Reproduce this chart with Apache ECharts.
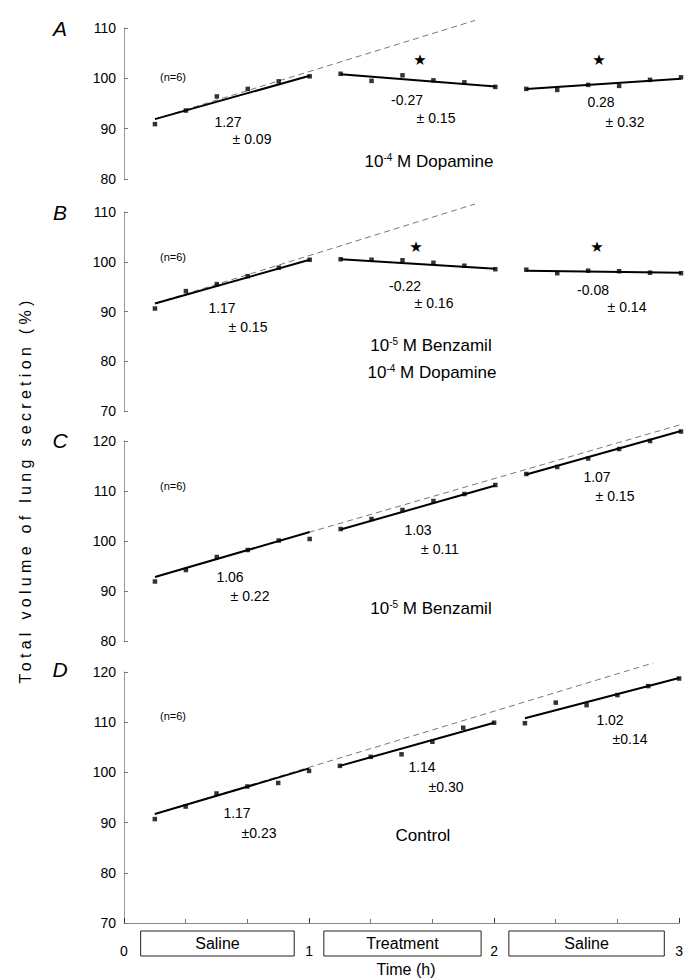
<!DOCTYPE html>
<html>
<head>
<meta charset="UTF-8">
<script src="https://cdn.jsdelivr.net/npm/echarts@6.0.0/dist/echarts.min.js"></script>
<style>
  html, body { margin: 0; padding: 0; background: #fff; }
  #main { width: 686px; height: 980px; }
</style>
</head>
<body>
<div id="main"></div>
<script>
// sample times inside each 1 h period (min)
var sampleMin = [10, 20, 30, 40, 50, 60];
var periods = ['Saline', 'Treatment', 'Saline'];
var boxFrom = [0.09, 1.08, 2.08];
var boxTo = [0.92, 1.93, 2.92];

// A: 10-4 M dopamine
var ptsA = [[90.9, 93.6, 96.4, 97.9, 99.4, 100.4], [100.9, 99.5, 100.6, 99.6, 99.2, 98.3], [97.9, 97.7, 98.7, 98.5, 99.7, 100.2]];
var fitA = [[91.9, 100.5], [100.8, 98.4], [97.9, 99.9]];
var dashA = [[0.167, 91.9], [1.89, 111.5]];

// B: benzamil + dopamine
var ptsB = [[90.6, 94.1, 95.5, 97.1, 98.8, 100.4], [100.5, 100.4, 100.3, 99.8, 99.2, 98.5], [98.4, 97.7, 98.2, 98.1, 97.8, 97.7]];
var fitB = [[91.6, 100.4], [100.5, 98.6], [98.2, 97.8]];
var dashB = [[0.167, 91.6], [1.89, 111.6]];

// C: benzamil
var ptsC = [[91.9, 94.2, 96.8, 98.2, 100.1, 100.4], [102.4, 104.4, 106.2, 108.0, 109.4, 111.2], [113.4, 114.8, 116.5, 118.4, 120.0, 121.9]];
var fitC = [[92.8, 101.8], [102.3, 111.1], [113.3, 122.0]];
var dashC = [[0.167, 92.8], [3.0, 123.3]];

// D: control
var ptsD = [[90.7, 93.2, 95.8, 97.2, 97.9, 100.3], [101.3, 103.1, 103.6, 106.1, 108.9, 109.9], [109.8, 113.9, 113.4, 115.4, 117.2, 118.7]];
var fitD = [[91.7, 100.8], [101.3, 109.9], [110.8, 118.8]];
var dashD = [[0.167, 91.7], [2.86, 121.8]];

var panels = [
    {pts: ptsA, fit: fitA, dash: dashA, min: 80, max: 110, top: 28, height: 151},
    {pts: ptsB, fit: fitB, dash: dashB, min: 70, max: 110, top: 212, height: 199},
    {pts: ptsC, fit: fitC, dash: dashC, min: 80, max: 120, top: 441, height: 200},
    {pts: ptsD, fit: fitD, dash: dashD, min: 70, max: 120, top: 672, height: 251}
];

var FONT = 'Liberation Sans, Arial, sans-serif';
var Y_TITLE = 'Total volume of lung secretion (%)';
var chart = echarts.init(document.getElementById('main'), null, {renderer: 'svg'});

var grids = [], xAxes = [], yAxes = [], series = [];
panels.forEach(function (p, i) {
    grids.push({left: 124, width: 557, top: p.top, height: p.height});
    var last = i === panels.length - 1;
    xAxes.push({
        gridIndex: i, type: 'value', min: 0, max: 3, interval: 1, show: last,
        axisLine: {show: true, onZero: false, lineStyle: {color: '#888', width: 1}},
        axisTick: {show: true, inside: true, length: 5, lineStyle: {color: '#333'}},
        minorTick: {show: true, splitNumber: 3, length: 4, lineStyle: {color: '#777'}},
        axisLabel: {margin: 21, fontSize: 14, color: '#000', fontFamily: FONT},
        splitLine: {show: false}, minorSplitLine: {show: false}
    });
    yAxes.push({
        gridIndex: i, type: 'value', min: p.min, max: p.max, interval: 10,
        axisLine: {show: true, lineStyle: {color: '#999', width: 1}},
        axisTick: {show: true, inside: true, length: 4, lineStyle: {color: '#777'}},
        axisLabel: {margin: 8, fontSize: 14, color: '#000', fontFamily: FONT},
        splitLine: {show: false}
    });

    var scat = [];
    p.pts.forEach(function (seg, s) {
        seg.forEach(function (v, k) {
            scat.push([s + sampleMin[k] / 60, v]);
        });
        // fitted line of each period
        series.push({
            type: 'line', xAxisIndex: i, yAxisIndex: i, clip: false, symbol: 'none',
            lineStyle: {color: '#000', width: 2},
            data: [[s + sampleMin[0] / 60, p.fit[s][0]], [s + 1, p.fit[s][1]]]
        });
    });
    // extrapolated saline line
    series.push({
        type: 'line', xAxisIndex: i, yAxisIndex: i, clip: false, symbol: 'none', z: 1,
        lineStyle: {color: '#777', width: 1, type: [6, 4]},
        data: p.dash
    });
    series.push({
        type: 'scatter', xAxisIndex: i, yAxisIndex: i, clip: false,
        symbol: 'rect', symbolSize: 4.5, itemStyle: {color: '#000'},
        data: scat
    });
});

chart.setOption({
    animation: false,
    grid: grids,
    xAxis: xAxes,
    yAxis: yAxes,
    series: series
});

function txt(x, y, text, size, extra) {
    var st = {text: text, font: size + 'px ' + FONT, fill: '#000', align: 'center', verticalAlign: 'middle'};
    if (extra) { for (var k in extra) st[k] = extra[k]; }
    return {type: 'text', x: x, y: y, style: st, z: 10};
}
var supRich = {sup: {fontSize: 10, fontFamily: FONT, verticalAlign: 'top', padding: [0, 0, 6, 0]}, n: {fontSize: 17, fontFamily: FONT}};

var g = [];
// panel letters
[['A', 28], ['B', 212], ['C', 440], ['D', 669]].forEach(function (l) {
    g.push(txt(60, l[1], l[0], 21, {font: 'italic 21px ' + FONT}));
});
// y title
var yt = txt(25, 490, Y_TITLE, 16);
yt.rotation = Math.PI / 2;
g.push(yt);
// n labels
[77, 257, 486, 716].forEach(function (y) { g.push(txt(173, y, '(n=6)', 11)); });
// slopes +- sem
var slopes = [
    [228, 122, '1.27'], [252, 139, '± 0.09'], [407, 100, '-0.27'], [436, 118, '± 0.15'], [601, 102, '0.28'], [625, 122, '± 0.32'],
    [222, 308, '1.17'], [248, 327, '± 0.15'], [405, 286, '-0.22'], [434, 303, '± 0.16'], [593, 290, '-0.08'], [627, 307, '± 0.14'],
    [230, 577, '1.06'], [250, 596, '± 0.22'], [418, 530, '1.03'], [440, 549, '± 0.11'], [597, 477, '1.07'], [615, 496, '± 0.15'],
    [237, 813, '1.17'], [259, 833, '±0.23'], [422, 767, '1.14'], [446, 787, '±0.30'], [610, 720, '1.02'], [630, 739, '±0.14']
];
slopes.forEach(function (s) { g.push(txt(s[0], s[1], s[2], 14)); });
// significance stars
[[420, 60], [599, 60], [416, 247], [597, 247]].forEach(function (s) {
    g.push(txt(s[0], s[1], '★', 15, {font: '15px DejaVu Sans'}));
});
// treatment labels
g.push(txt(429, 161, '{n|10}{sup|-4}{n| M Dopamine}', 17, {rich: supRich}));
g.push(txt(431, 345, '{n|10}{sup|-5}{n| M Benzamil}', 17, {rich: supRich}));
g.push(txt(432, 372, '{n|10}{sup|-4}{n| M Dopamine}', 17, {rich: supRich}));
g.push(txt(431, 608, '{n|10}{sup|-5}{n| M Benzamil}', 17, {rich: supRich}));
g.push(txt(423, 835, 'Control', 17));
// period boxes under the time axis
periods.forEach(function (name, i) {
    var a = chart.convertToPixel({gridIndex: 3}, [boxFrom[i], 70]);
    var b = chart.convertToPixel({gridIndex: 3}, [boxTo[i], 70]);
    g.push({type: 'rect', shape: {x: a[0], y: 931, width: b[0] - a[0], height: 25},
        style: {fill: '#fff', stroke: '#222', lineWidth: 1}, z: 5});
    g.push(txt((a[0] + b[0]) / 2, 943.5, name, 16));
});
g.push(txt(406, 969, 'Time (h)', 16));

chart.setOption({graphic: g});

// the printed axis title is letter-spaced
function spaceTitle() {
    var nodes = document.querySelectorAll('#main text');
    for (var i = 0; i < nodes.length; i++) {
        if (nodes[i].textContent === Y_TITLE) {
            nodes[i].setAttribute('letter-spacing', '4.3');
        }
    }
}
chart.on('finished', spaceTitle);
spaceTitle();
</script>
</body>
</html>
